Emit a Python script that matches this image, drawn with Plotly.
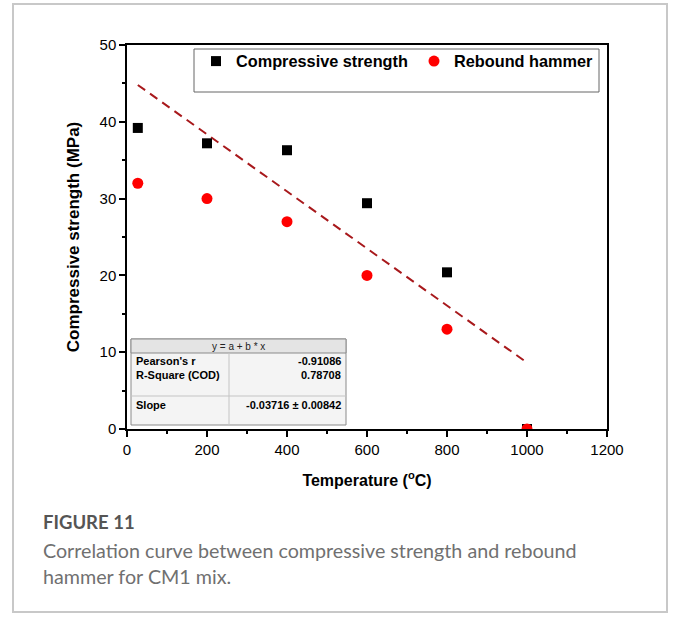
import plotly.graph_objects as go

# Temperature exposure (deg C)
temperature = [27, 200, 400, 600, 800, 1000]
# Measured compressive strength (MPa)
compressive_strength = [39.2, 37.2, 36.3, 29.4, 20.4, 0.0]
# Rebound hammer estimate (MPa)
rebound_hammer = [32.0, 30.0, 27.0, 20.0, 13.0, 0.0]

# Linear fit y = a + b*x of compressive strength
fit_intercept = 45.8
fit_slope = -0.03716
fit_slope_err = 0.00842
pearson_r = -0.91086
r_square = 0.78708
fit_x = [27, 1000]

x_ticks = [0, 200, 400, 600, 800, 1000, 1200]
y_ticks = [0, 10, 20, 30, 40, 50]

W, H = 677, 623
L, R, T, B = 127, 607, 45, 429  # plot area in pixels


def px(p):
    return (p - L) / (R - L)


def py(p):
    return (B - p) / (B - T)


AX_FONT = "Liberation Sans"
CAP_FONT = "Lato"

fig = go.Figure()

fig.add_trace(go.Scatter(
    x=fit_x, y=[fit_intercept + fit_slope * v for v in fit_x],
    mode="lines", line=dict(color="#a8191c", width=2, dash="9px,6px"),
    showlegend=False, hoverinfo="skip",
))
fig.add_trace(go.Scatter(
    x=temperature, y=compressive_strength, mode="markers",
    name="<b>Compressive strength</b>",
    marker=dict(symbol="square", size=10, color="black"),
))
fig.add_trace(go.Scatter(
    x=temperature, y=rebound_hammer, mode="markers",
    name="<b>Rebound hammer</b>",
    marker=dict(symbol="circle", size=11, color="#ff0000"),
))

shapes = []
annotations = []

# outer figure frame
shapes.append(dict(type="rect", xref="paper", yref="paper",
                   x0=px(13), x1=px(667), y0=py(4), y1=py(612),
                   line=dict(color="#c8c8c8", width=2), layer="below"))

# legend box
shapes.append(dict(type="rect", xref="paper", yref="paper",
                   x0=px(194), x1=px(599), y0=py(49), y1=py(92),
                   line=dict(color="#666666", width=1)))

# statistics table
tl, tr, tt, tb, tdiv = 131, 346, 339, 425, 229
shapes.append(dict(type="rect", xref="paper", yref="paper",
                   x0=px(tl), x1=px(tr), y0=py(tt), y1=py(tb),
                   fillcolor="#f4f4f4", line=dict(color="#8a8a8a", width=1)))
shapes.append(dict(type="rect", xref="paper", yref="paper",
                   x0=px(tl), x1=px(tr), y0=py(tt), y1=py(353),
                   fillcolor="#e4e4e4", line=dict(color="#8a8a8a", width=1)))
shapes.append(dict(type="line", xref="paper", yref="paper",
                   x0=px(tdiv), x1=px(tdiv), y0=py(353), y1=py(tb),
                   line=dict(color="#c4c4c4", width=1)))
shapes.append(dict(type="line", xref="paper", yref="paper",
                   x0=px(tl), x1=px(tr), y0=py(396), y1=py(396),
                   line=dict(color="#c4c4c4", width=1)))

annotations.append(dict(xref="paper", yref="paper", x=px((tl + tr) / 2), y=py(346),
                        text="y = a + b * x", showarrow=False,
                        font=dict(family=AX_FONT, size=10, color="#222"),
                        xanchor="center", yanchor="middle"))
rows = [("Pearson's r", f"{pearson_r:.5f}", 361),
        ("R-Square (COD)", f"{r_square:.5f}", 375),
        ("Slope", f"{fit_slope:.5f} \u00b1 {fit_slope_err:.5f}", 405)]
for label, value, yy in rows:
    annotations.append(dict(xref="paper", yref="paper", x=px(134), y=py(yy),
                            text=f"<b>{label}</b>", showarrow=False,
                            font=dict(family=AX_FONT, size=11, color="black"),
                            xanchor="left", yanchor="middle"))
    annotations.append(dict(xref="paper", yref="paper", x=px(343), y=py(yy),
                            text=f"<b>{value}</b>", showarrow=False,
                            font=dict(family=AX_FONT, size=11, color="black"),
                            xanchor="right", yanchor="middle"))

# figure caption
annotations.append(dict(xref="paper", yref="paper", x=px(41), y=py(522),
                        text="<b>FIGURE 11</b>", showarrow=False,
                        font=dict(family=CAP_FONT, size=18.5, color="#555555"),
                        xanchor="left", yanchor="middle"))
annotations.append(dict(xref="paper", yref="paper", x=px(41), y=py(563),
                        text="Correlation curve between compressive strength and rebound<br>hammer for CM1 mix.",
                        showarrow=False, align="left",
                        font=dict(family=CAP_FONT, size=19.7, color="#707070"),
                        xanchor="left", yanchor="middle"))

axis_common = dict(
    showline=True, linecolor="black", linewidth=1.5, mirror=True,
    ticks="outside", ticklen=6, tickwidth=1.5, tickcolor="black",
    showgrid=False, zeroline=False,
    tickfont=dict(family=AX_FONT, size=15, color="black"),
)

fig.update_layout(
    width=W, height=H,
    margin=dict(l=L, r=W - R, t=T, b=H - B, pad=0),
    paper_bgcolor="white", plot_bgcolor="white",
    xaxis=dict(axis_common, range=[0, 1200], tickvals=x_ticks,
               minor=dict(ticks="outside", ticklen=3, tickwidth=1.5, dtick=100, tick0=0, tickcolor="black"),
               title=dict(text="<b>Temperature (<sup>o</sup>C)</b>",
                          font=dict(family=AX_FONT, size=16, color="black"), standoff=18)),
    yaxis=dict(axis_common, range=[0, 50], tickvals=y_ticks,
               minor=dict(ticks="outside", ticklen=3, tickwidth=1.5, dtick=5, tick0=0, tickcolor="black"),
               title=dict(text="<b>Compressive strength (MPa)</b>",
                          font=dict(family=AX_FONT, size=17, color="black"), standoff=16)),
    legend=dict(orientation="h", x=px(196), y=py(44), xanchor="left", yanchor="top",
                bgcolor="rgba(0,0,0,0)", borderwidth=0,
                font=dict(family=AX_FONT, size=16.3, color="black"),
                entrywidth=173, entrywidthmode="pixels", itemwidth=30),
    shapes=shapes,
    annotations=annotations,
)

fig.write_html("out.html")
